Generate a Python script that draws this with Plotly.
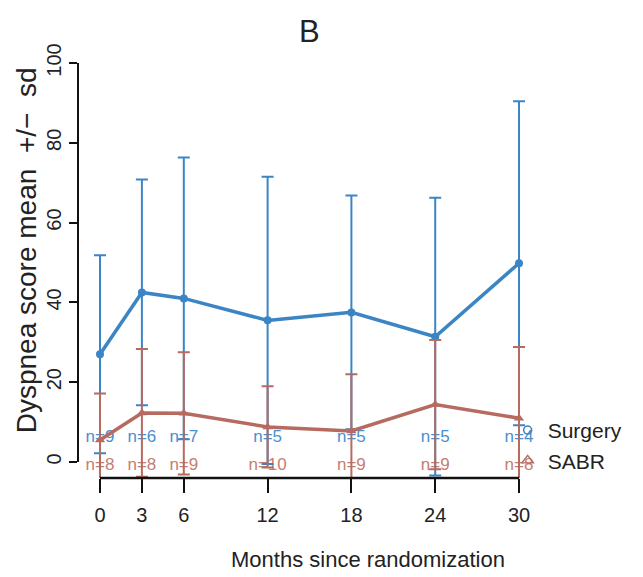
import plotly.graph_objects as go

# ---- data ----
months = [0, 3, 6, 12, 18, 24, 30]
surgery_mean = [27.0, 42.5, 41.0, 35.5, 37.5, 31.4, 49.8]
surgery_sd = [24.8, 28.3, 35.3, 36.0, 29.3, 34.8, 40.6]
sabr_mean = [5.5, 12.3, 12.2, 8.8, 7.8, 14.4, 11.0]
sabr_sd = [11.7, 16.0, 15.3, 10.2, 14.2, 16.2, 17.8]
surgery_n = [9, 6, 7, 5, 5, 5, 4]
sabr_n = [8, 8, 9, 10, 9, 9, 8]
y_ticks = [0, 20, 40, 60, 80, 100]

# ---- style ----
BLUE = "#3C85C5"
RED = "#B76A5F"
BLUE_TXT = "#4A8FD0"
RED_TXT = "#C47E73"
FONT = "Liberation Sans, Arial, sans-serif"
N_Y_SURG = 6.0
N_Y_SABR = -0.9

fig = go.Figure()

# n labels (drawn first, underneath)
fig.add_trace(go.Scatter(
    x=months, y=[N_Y_SURG] * len(months), mode="text",
    text=[f"n={v}" for v in surgery_n],
    textfont=dict(family=FONT, size=17, color=BLUE_TXT),
    showlegend=False, hoverinfo="skip", cliponaxis=False))
fig.add_trace(go.Scatter(
    x=months, y=[N_Y_SABR] * len(months), mode="text",
    text=[f"n={v}" for v in sabr_n],
    textfont=dict(family=FONT, size=17, color=RED_TXT),
    showlegend=False, hoverinfo="skip", cliponaxis=False))

# series
fig.add_trace(go.Scatter(
    x=months, y=surgery_mean, mode="lines+markers", name="Surgery",
    line=dict(color=BLUE, width=3.5),
    marker=dict(symbol="circle", size=8, color=BLUE),
    error_y=dict(type="data", array=surgery_sd, visible=True,
                 color=BLUE, thickness=2, width=6),
    showlegend=False))
fig.add_trace(go.Scatter(
    x=months, y=sabr_mean, mode="lines+markers", name="SABR",
    line=dict(color=RED, width=3.5),
    marker=dict(symbol="triangle-up", size=9, color=RED),
    error_y=dict(type="data", array=sabr_sd, visible=True,
                 color=RED, thickness=2, width=6),
    showlegend=False))

# legend entries
fig.add_trace(go.Scatter(
    x=[None], y=[None], mode="markers", name="Surgery",
    marker=dict(symbol="circle-open", size=8, color=BLUE, line=dict(width=1.6))))
fig.add_trace(go.Scatter(
    x=[None], y=[None], mode="markers", name="SABR",
    marker=dict(symbol="triangle-up-open", size=10, color=RED, line=dict(width=1.4))))

# R-style axis lines spanning first to last tick
fig.add_shape(type="line", xref="paper", yref="y", x0=0, x1=0,
              y0=min(y_ticks), y1=max(y_ticks), line=dict(color="#111", width=2))
fig.add_shape(type="line", xref="x", yref="paper", x0=min(months), x1=max(months),
              y0=0, y1=0, line=dict(color="#111", width=2.5))

fig.update_layout(
    width=635, height=569,
    margin=dict(l=70, r=103, t=39, b=99),
    paper_bgcolor="white", plot_bgcolor="white",
    xaxis=dict(range=[-1.575, 31.503], tickmode="array", tickvals=months,
               ticktext=[str(m) for m in months],
               ticks="outside", ticklen=14, tickwidth=2, tickcolor="#111",
               showgrid=False, zeroline=False, showline=False,
               ticklabelstandoff=5,
               tickfont=dict(family=FONT, size=20, color="#222")),
    yaxis=dict(range=[-4, 104], tickmode="array", tickvals=y_ticks,
               ticktext=[str(v) for v in y_ticks],
               ticks="outside", ticklen=8, tickwidth=2, tickcolor="#111",
               showgrid=False, zeroline=False, showline=False,
               tickangle=-90, ticklabelstandoff=0,
               tickfont=dict(family=FONT, size=20, color="#222")),
    legend=dict(x=0.930, y=0.158, xanchor="left", yanchor="top",
                font=dict(family=FONT, size=21, color="#222"),
                bgcolor="rgba(0,0,0,0)", tracegroupgap=0),
    showlegend=True,
    annotations=[
        dict(text="B", xref="paper", yref="paper", x=0.502, y=1.037,
             xanchor="center", yanchor="middle", showarrow=False,
             font=dict(family=FONT, size=31, color="#222")),
        dict(text="Months since randomization", xref="paper", yref="paper",
             x=0.628, y=-0.19, xanchor="center", yanchor="middle", showarrow=False,
             font=dict(family=FONT, size=22, color="#222")),
        dict(text="Dyspnea score mean  +/\u2212  sd", xref="paper", yref="paper",
             x=-0.112, y=0.529, xanchor="center", yanchor="middle", showarrow=False,
             textangle=-90, font=dict(family=FONT, size=28, color="#222")),
    ],
)

fig.write_html("out.html")
